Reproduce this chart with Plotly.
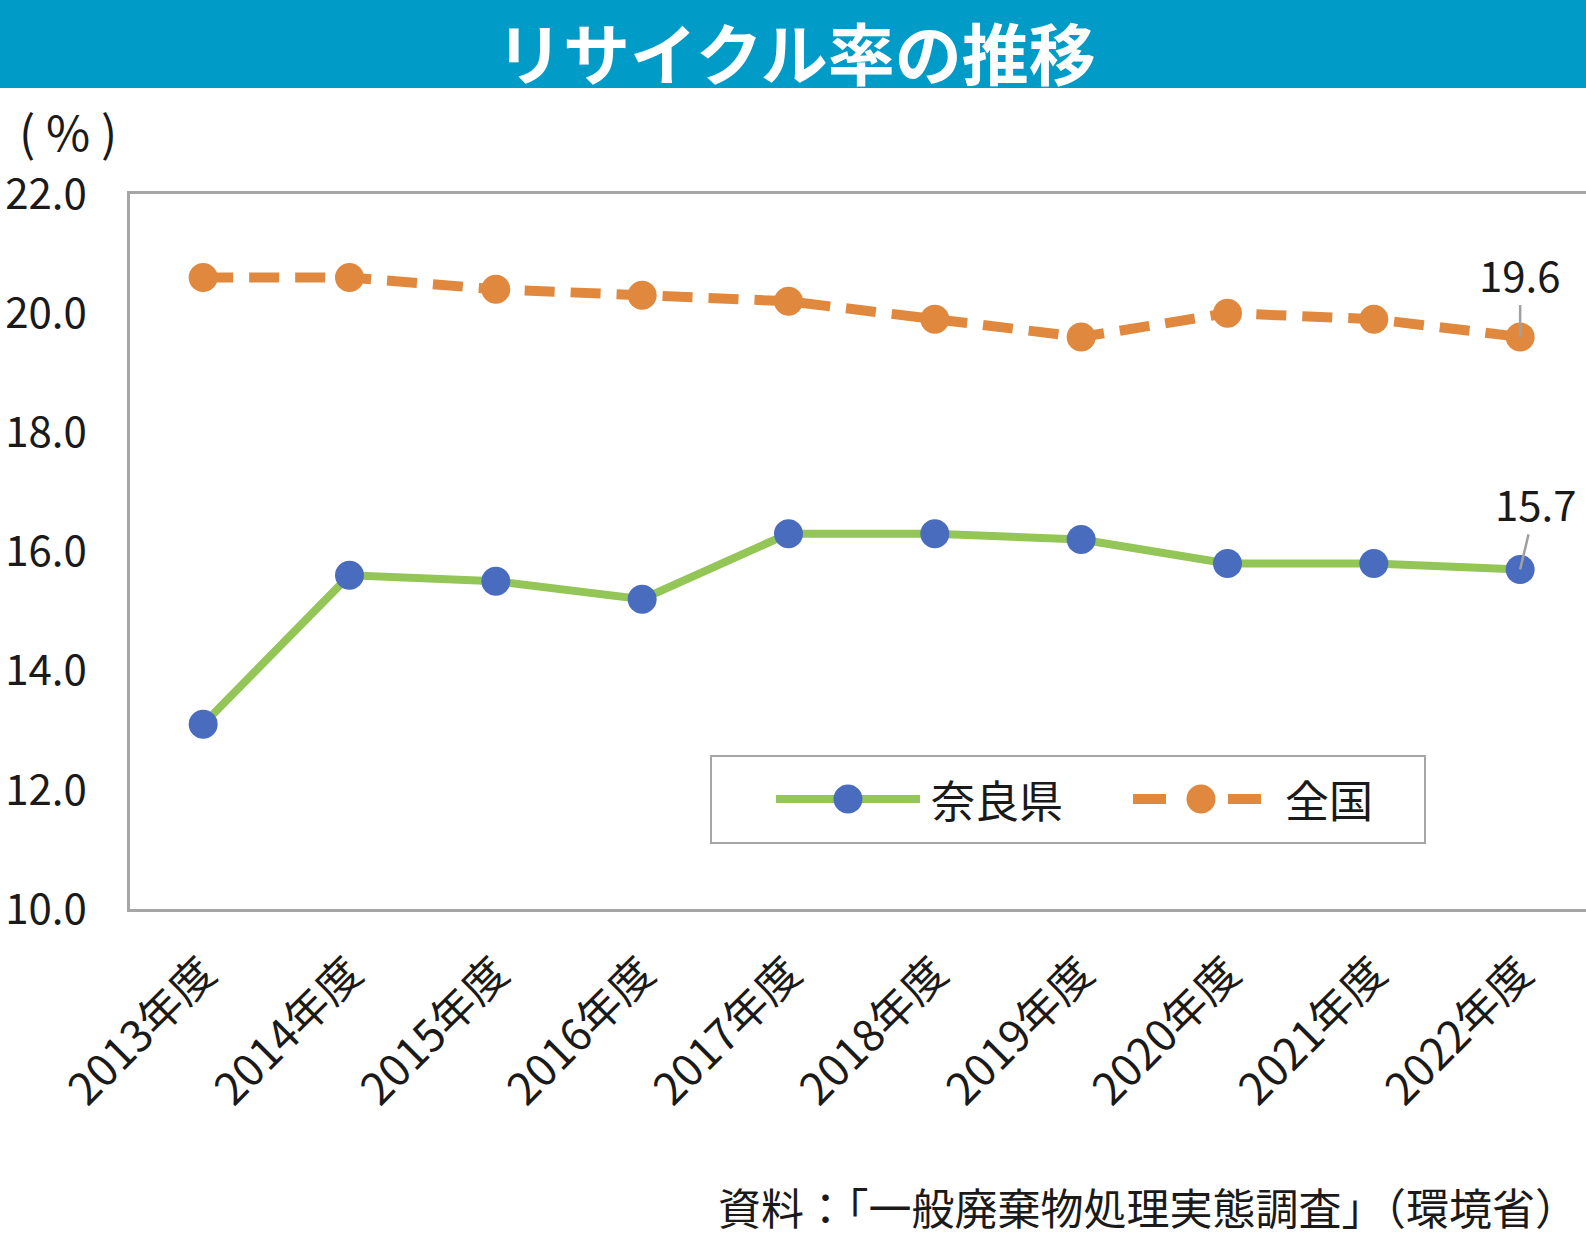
import plotly.graph_objects as go

# ---- data ----
years = ["2013年度", "2014年度", "2015年度", "2016年度", "2017年度",
         "2018年度", "2019年度", "2020年度", "2021年度", "2022年度"]
nara = [13.1, 15.6, 15.5, 15.2, 16.3, 16.3, 16.2, 15.8, 15.8, 15.7]
zenkoku = [20.6, 20.6, 20.4, 20.3, 20.2, 19.9, 19.6, 20.0, 19.9, 19.6]
series_names = ["奈良県", "全国"]
y_ticks = [10, 12, 14, 16, 18, 20, 22]
title_text = "リサイクル率の推移"
unit_text = "( % )"
source_text = "資料：「一般廃棄物処理実態調査」（環境省）"

# ---- styling ----
W, H = 1586, 1249
L, R, T, B = 130, 1586, 194, 909
FONT = "Noto Sans CJK JP"
GREEN = "#93C557"
BLUE = "#4A6CBE"
ORANGE = "#E0883D"
BANNER = "#009BC6"
AXIS = "#A6A6A6"
TXT = "#1A1A1A"


def px_x(p):
    return (p - L) / (R - L)


def px_y(p):
    return (B - p) / (B - T)


fig = go.Figure()
fig.add_trace(go.Scatter(
    x=years, y=nara, mode="lines+markers", name=series_names[0],
    line=dict(color=GREEN, width=8),
    marker=dict(color=BLUE, size=29), showlegend=False))
fig.add_trace(go.Scatter(
    x=years, y=zenkoku, mode="lines+markers", name=series_names[1],
    line=dict(color=ORANGE, width=10, dash="30px,16px"),
    marker=dict(color=ORANGE, size=29), showlegend=False))

shapes = []
annotations = []

# banner
shapes.append(dict(type="rect", xref="paper", yref="paper",
                   x0=px_x(0), x1=px_x(W), y0=px_y(88), y1=px_y(0),
                   fillcolor=BANNER, line=dict(width=0), layer="below"))
annotations.append(dict(text="<b>" + title_text + "</b>", xref="paper", yref="paper",
                        x=px_x(796), y=px_y(50), showarrow=False,
                        xanchor="center", yanchor="middle",
                        font=dict(family=FONT, size=67, color="white")))
# unit label
annotations.append(dict(text=unit_text, xref="paper", yref="paper",
                        x=px_x(68), y=px_y(130), showarrow=False,
                        xanchor="center", yanchor="middle",
                        font=dict(family=FONT, size=48, color=TXT)))
# source
annotations.append(dict(text=source_text, xref="paper", yref="paper",
                        x=px_x(716), y=px_y(1206), showarrow=False,
                        xanchor="left", yanchor="middle",
                        font=dict(family=FONT, size=43, color=TXT)))

# data labels for last points
annotations.append(dict(text=f"{zenkoku[-1]:.1f}", x=years[-1], y=zenkoku[-1],
                        xref="x", yref="y", ax=0, ay=-64, showarrow=True,
                        arrowhead=0, arrowwidth=2.5, arrowcolor="#A0A0A0",
                        font=dict(family=FONT, size=42, color=TXT)))
annotations.append(dict(text=f"{nara[-1]:.1f}", x=years[-1], y=nara[-1],
                        xref="x", yref="y", ax=16, ay=-67, showarrow=True,
                        arrowhead=0, arrowwidth=2.5, arrowcolor="#A0A0A0",
                        font=dict(family=FONT, size=42, color=TXT)))

# legend (drawn manually)
ly = 799
shapes.append(dict(type="rect", xref="paper", yref="paper",
                   x0=px_x(711), x1=px_x(1425), y0=px_y(843), y1=px_y(756),
                   line=dict(color=AXIS, width=2), fillcolor="white", layer="above"))
shapes.append(dict(type="line", xref="paper", yref="paper",
                   x0=px_x(776), x1=px_x(920), y0=px_y(ly), y1=px_y(ly),
                   line=dict(color=GREEN, width=8), layer="above"))
shapes.append(dict(type="circle", xref="paper", yref="paper",
                   x0=px_x(848 - 14.5), x1=px_x(848 + 14.5),
                   y0=px_y(ly + 14.5), y1=px_y(ly - 14.5),
                   fillcolor=BLUE, line=dict(width=0), layer="above"))
for a, b in [(1133, 1166), (1228, 1261)]:
    shapes.append(dict(type="line", xref="paper", yref="paper",
                       x0=px_x(a), x1=px_x(b), y0=px_y(ly), y1=px_y(ly),
                       line=dict(color=ORANGE, width=10), layer="above"))
shapes.append(dict(type="circle", xref="paper", yref="paper",
                   x0=px_x(1201 - 14.5), x1=px_x(1201 + 14.5),
                   y0=px_y(ly + 14.5), y1=px_y(ly - 14.5),
                   fillcolor=ORANGE, line=dict(width=0), layer="above"))
annotations.append(dict(text=series_names[0], xref="paper", yref="paper",
                        x=px_x(929), y=px_y(ly), showarrow=False,
                        xanchor="left", yanchor="middle",
                        font=dict(family=FONT, size=44, color=TXT)))
annotations.append(dict(text=series_names[1], xref="paper", yref="paper",
                        x=px_x(1283), y=px_y(ly), showarrow=False,
                        xanchor="left", yanchor="middle",
                        font=dict(family=FONT, size=44, color=TXT)))

fig.update_layout(
    width=W, height=H,
    margin=dict(l=L, r=W - R, t=T, b=H - B, pad=0, autoexpand=False),
    paper_bgcolor="white", plot_bgcolor="white",
    shapes=shapes, annotations=annotations,
    showlegend=False,
    font=dict(family=FONT, color=TXT),
)
fig.update_xaxes(
    type="category", range=[-0.5, 9.45], showgrid=False, zeroline=False,
    showline=True, linecolor=AXIS, linewidth=2.5, mirror=True,
    ticks="", tickangle=-45, ticklabelstandoff=18, automargin=False,
    tickfont=dict(family=FONT, size=44, color=TXT),
)
fig.update_yaxes(
    range=[10, 22], tickvals=y_ticks, tickformat=".1f",
    showgrid=False, zeroline=False,
    showline=True, linecolor=AXIS, linewidth=2.5,
    ticks="", ticklabelstandoff=32, automargin=False,
    tickfont=dict(family=FONT, size=42, color=TXT),
)

fig.write_html("out.html",
               config={"displayModeBar": False},
               post_script="document.body.style.margin='0px';"
                           "document.body.style.overflow='hidden';")
